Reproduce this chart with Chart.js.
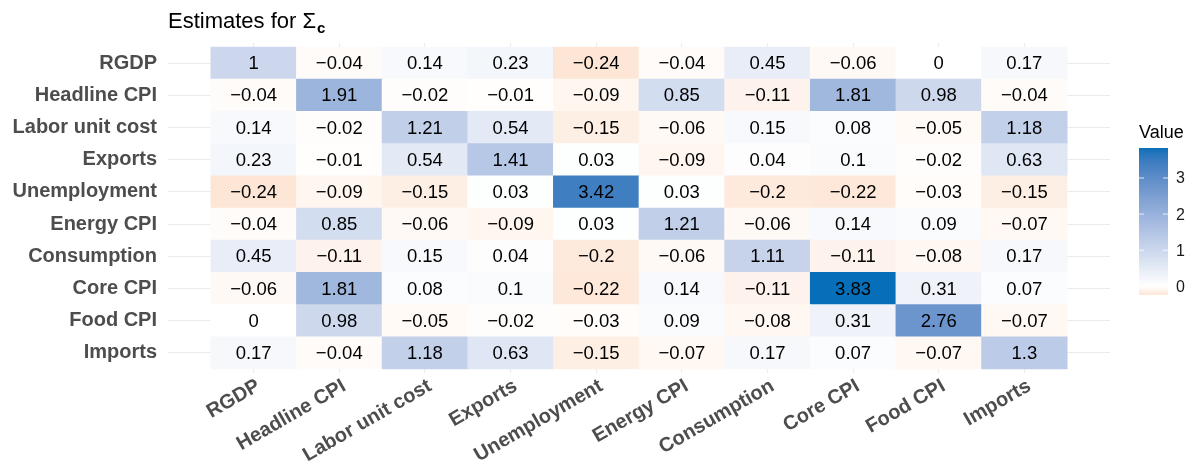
<!DOCTYPE html>
<html>
<head>
<meta charset="utf-8">
<script src="https://cdn.jsdelivr.net/npm/chart.js@4/dist/chart.umd.min.js"></script>
<style>
  html, body { margin: 0; padding: 0; background: #ffffff; }
  #wrap { width: 1192px; height: 472px; position: relative; }
</style>
</head>
<body>
<div id="wrap"><canvas id="sigmaChart"></canvas></div>
<script>
// ── Data ────────────────────────────────────────────────────
var rowLabels = ['RGDP', 'Headline CPI', 'Labor unit cost', 'Exports', 'Unemployment',
                 'Energy CPI', 'Consumption', 'Core CPI', 'Food CPI', 'Imports'];
var colLabels = ['RGDP', 'Headline CPI', 'Labor unit cost', 'Exports', 'Unemployment',
                 'Energy CPI', 'Consumption', 'Core CPI', 'Food CPI', 'Imports'];

// one row per variable
var values = [
  [1, -0.04, 0.14, 0.23, -0.24, -0.04, 0.45, -0.06, 0, 0.17],
  [-0.04, 1.91, -0.02, -0.01, -0.09, 0.85, -0.11, 1.81, 0.98, -0.04],
  [0.14, -0.02, 1.21, 0.54, -0.15, -0.06, 0.15, 0.08, -0.05, 1.18],
  [0.23, -0.01, 0.54, 1.41, 0.03, -0.09, 0.04, 0.1, -0.02, 0.63],
  [-0.24, -0.09, -0.15, 0.03, 3.42, 0.03, -0.2, -0.22, -0.03, -0.15],
  [-0.04, 0.85, -0.06, -0.09, 0.03, 1.21, -0.06, 0.14, 0.09, -0.07],
  [0.45, -0.11, 0.15, 0.04, -0.2, -0.06, 1.11, -0.11, -0.08, 0.17],
  [-0.06, 1.81, 0.08, 0.1, -0.22, 0.14, -0.11, 3.83, 0.31, 0.07],
  [0, 0.98, -0.05, -0.02, -0.03, 0.09, -0.08, 0.31, 2.76, -0.07],
  [0.17, -0.04, 1.18, 0.63, -0.15, -0.07, 0.17, 0.07, -0.07, 1.3]
];

var legendTicks = [0, 1, 2, 3];

// ── Colour scale (white mid, mixed in Lab like ggplot) ─────
var LOW = '#FDE6D6';
var MID = '#FFFFFF';
var HIGH = '#0570B9';

var allValues = [].concat.apply([], values);
var minValue = Math.min.apply(null, allValues);
var maxValue = Math.max.apply(null, allValues);

function hexToRgb(h) {
  return [parseInt(h.substr(1, 2), 16), parseInt(h.substr(3, 2), 16), parseInt(h.substr(5, 2), 16)];
}

function toLab(rgb) {
  var lin = rgb.map(function (c) {
    c = c / 255;
    return c <= 0.04045 ? c / 12.92 : Math.pow((c + 0.055) / 1.055, 2.4);
  });
  var X = (0.4124 * lin[0] + 0.3576 * lin[1] + 0.1805 * lin[2]) / 0.95047;
  var Y = (0.2126 * lin[0] + 0.7152 * lin[1] + 0.0722 * lin[2]);
  var Z = (0.0193 * lin[0] + 0.1192 * lin[1] + 0.9505 * lin[2]) / 1.08883;
  var f = function (t) { return t > 0.008856 ? Math.cbrt(t) : 7.787 * t + 16 / 116; };
  return [116 * f(Y) - 16, 500 * (f(X) - f(Y)), 200 * (f(Y) - f(Z))];
}

function fromLab(lab) {
  var fy = (lab[0] + 16) / 116;
  var fx = fy + lab[1] / 500;
  var fz = fy - lab[2] / 200;
  var inv = function (t) { return t * t * t > 0.008856 ? t * t * t : (t - 16 / 116) / 7.787; };
  var X = inv(fx) * 0.95047, Y = inv(fy), Z = inv(fz) * 1.08883;
  var lin = [
    3.2406 * X - 1.5372 * Y - 0.4986 * Z,
    -0.9689 * X + 1.8758 * Y + 0.0415 * Z,
    0.0557 * X - 0.2040 * Y + 1.0570 * Z
  ];
  return lin.map(function (c) {
    c = c <= 0.0031308 ? 12.92 * c : 1.055 * Math.pow(c, 1 / 2.4) - 0.055;
    return Math.max(0, Math.min(255, Math.round(c * 255)));
  });
}

function mixLab(a, b, t) {
  var la = toLab(hexToRgb(a)), lb = toLab(hexToRgb(b));
  var m = fromLab([0, 1, 2].map(function (i) { return la[i] + (lb[i] - la[i]) * t; }));
  return 'rgb(' + m.join(',') + ')';
}

function cellColor(v) {
  if (v >= 0) return mixLab(MID, HIGH, v / maxValue);
  return mixLab(MID, LOW, v / minValue);
}

// negative numbers are printed with a real minus sign
function fmt(v) {
  return v < 0 ? '\u2212' + String(-v) : String(v);
}

// ── Cells as floating bars ─────────────────────────────────
var cells = [];
rowLabels.forEach(function (rowName, r) {
  colLabels.forEach(function (colName, c) {
    cells.push({ x: c, y: [r - 0.5, r + 0.5], v: values[r][c] });
  });
});

var FONT_FAMILY = '"Liberation Sans", Arial, sans-serif';
var AXIS_FONT = { family: FONT_FAMILY, size: 20, weight: 'bold' };

// ── Plugins: cell text, x labels, title, colour bar ────────
var cellText = {
  id: 'cellText',
  afterDatasetsDraw: function (chart) {
    var ctx = chart.ctx;
    var meta = chart.getDatasetMeta(0);
    ctx.save();
    ctx.font = '18.5px ' + FONT_FAMILY;
    ctx.fillStyle = '#000000';
    ctx.textAlign = 'center';
    ctx.textBaseline = 'middle';
    meta.data.forEach(function (bar, i) {
      var p = bar.getCenterPoint();
      ctx.fillText(fmt(cells[i].v), p.x, p.y + 1);
    });
    ctx.restore();
  }
};

// rotated x labels, right/top anchored at the tick like hjust = 1
var xLabels = {
  id: 'xLabels',
  afterDraw: function (chart) {
    var ctx = chart.ctx;
    var xs = chart.scales.x;
    var y0 = chart.chartArea.bottom + 3;
    ctx.save();
    ctx.font = 'bold 20px ' + FONT_FAMILY;
    ctx.fillStyle = '#4D4D4D';
    ctx.textAlign = 'right';
    ctx.textBaseline = 'top';
    colLabels.forEach(function (name, i) {
      ctx.save();
      ctx.translate(xs.getPixelForValue(i), y0);
      ctx.rotate(-Math.PI / 6);
      ctx.fillText(name, 0, 0);
      ctx.restore();
    });
    ctx.restore();
  }
};

var titleText = {
  id: 'titleText',
  afterDraw: function (chart) {
    var ctx = chart.ctx;
    ctx.save();
    ctx.fillStyle = '#000000';
    ctx.textBaseline = 'alphabetic';
    ctx.font = '22px ' + FONT_FAMILY;
    ctx.fillText('Estimates for Σ', 168, 28);
    var w = ctx.measureText('Estimates for Σ').width;
    ctx.font = 'bold 15px ' + FONT_FAMILY;
    ctx.fillText('c', 168 + w + 1, 33);
    ctx.restore();
  }
};

var colourBar = {
  id: 'colourBar',
  afterDraw: function (chart) {
    var ctx = chart.ctx;
    var left = 1139, width = 29, top = 148, bottom = 295;
    var pxPerUnit = (bottom - top) / (maxValue - minValue);
    ctx.save();
    for (var y = top; y < bottom; y++) {
      var v = maxValue - (y + 0.5 - top) / pxPerUnit;
      ctx.fillStyle = cellColor(v);
      ctx.fillRect(left, y, width, 1);
    }
    ctx.font = '18px ' + FONT_FAMILY;
    ctx.fillStyle = '#000000';
    ctx.textBaseline = 'alphabetic';
    ctx.fillText('Value', 1139, 138);
    ctx.font = '16px ' + FONT_FAMILY;
    ctx.fillStyle = '#1A1A1A';
    ctx.textBaseline = 'middle';
    legendTicks.forEach(function (t) {
      var ty = bottom - (t - minValue) * pxPerUnit;
      ctx.strokeStyle = 'rgba(255,255,255,0.8)';
      ctx.lineWidth = 1;
      ctx.beginPath();
      ctx.moveTo(left, ty); ctx.lineTo(left + 5, ty);
      ctx.moveTo(left + width - 5, ty); ctx.lineTo(left + width, ty);
      ctx.stroke();
      ctx.fillText(String(t), 1176, ty + 1);
    });
    ctx.restore();
  }
};

// ── Chart ──────────────────────────────────────────────────
new Chart(document.getElementById('sigmaChart').getContext('2d'), {
  type: 'bar',
  data: {
    datasets: [{
      data: cells,
      backgroundColor: function (c) {
        return c.raw ? cellColor(c.raw.v) : '#ffffff';
      },
      borderWidth: 0,
      borderSkipped: false,
      barPercentage: 1,
      categoryPercentage: 1
    }]
  },
  options: {
    responsive: true,
    maintainAspectRatio: false,
    animation: false,
    events: [],
    layout: { padding: { left: 0, right: 82, top: 43, bottom: 0 } },
    plugins: { legend: { display: false }, tooltip: { enabled: false }, title: { display: false } },
    scales: {
      x: {
        type: 'linear',
        offset: false,
        min: -1,
        max: 10,
        afterBuildTicks: function (scale) {
          scale.ticks = colLabels.map(function (name, i) { return { value: i }; });
        },
        afterFit: function (scale) { scale.height = 99; },
        border: { display: false },
        grid: { color: '#EBEBEB', drawTicks: false, offset: false, lineWidth: 1.1 },
        ticks: { display: false }
      },
      y: {
        type: 'linear',
        reverse: true,
        min: -0.624,
        max: 9.624,
        afterBuildTicks: function (scale) {
          scale.ticks = rowLabels.map(function (name, i) { return { value: i }; });
        },
        afterFit: function (scale) { scale.width = 168; },
        border: { display: false },
        grid: { color: '#EBEBEB', drawTicks: false, lineWidth: 1.1 },
        ticks: {
          padding: 11,
          color: '#4D4D4D',
          font: AXIS_FONT,
          callback: function (value) { return rowLabels[value]; }
        }
      }
    }
  },
  plugins: [cellText, xLabels, titleText, colourBar]
});
</script>
</body>
</html>
